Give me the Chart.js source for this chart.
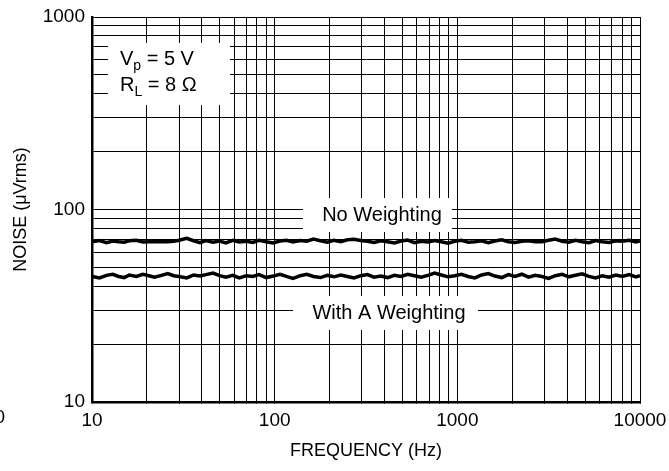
<!DOCTYPE html>
<html lang="en">
<head>
<meta charset="UTF-8">
<title>Noise vs Frequency</title>
<style>
  html, body { margin: 0; padding: 0; background: #fff; }
  #wrap { width: 669px; height: 471px; position: relative; }
</style>
</head>
<body>
<div id="wrap"><canvas id="grafico" width="669" height="471"></canvas></div>

<script src="https://cdn.jsdelivr.net/npm/chart.js"></script>
<script>
// frequencies (Hz) where the traces were read
const frequencias = [
  10, 11, 12, 13, 14, 15, 16, 17.5, 19, 20.5,
  22, 24, 26, 28, 30, 33, 36, 39, 42, 46,
  50, 54, 59, 64, 70, 76, 82, 90, 98, 107,
  116, 126, 138, 150, 163, 178, 194, 211, 230, 250,
  272, 296, 322, 350, 381, 415, 452, 492, 535, 582,
  634, 690, 751, 817, 889, 968, 1053, 1146, 1247, 1357,
  1477, 1607, 1749, 1903, 2071, 2254, 2453, 2669, 2905, 3161,
  3440, 3744, 4074, 4434, 4825, 5251, 5714, 6218, 6767, 7364,
  8014, 8721, 9491, 10000
];

// noise, uVrms
const semPonderacao = [
  68.0, 69.0, 67.2, 68.6, 68.0, 67.6, 68.8, 69.2, 67.8, 68.0,
  68.0, 68.0, 68.0, 68.4, 69.2, 70.8, 68.8, 67.2, 69.0, 67.6,
  68.6, 67.0, 69.2, 67.8, 68.4, 67.4, 69.2, 68.0, 67.0, 68.6,
  69.2, 67.8, 69.0, 68.4, 70.2, 68.8, 67.6, 69.2, 68.0, 69.6,
  70.0, 69.0, 68.4, 67.4, 68.8, 68.0, 67.0, 68.6, 69.4, 67.2,
  68.4, 67.8, 69.0, 68.0, 66.8, 68.4, 69.2, 67.6, 68.0, 68.8,
  67.2, 68.6, 69.6, 68.0, 67.4, 68.4, 68.8, 68.0, 68.0, 69.2,
  70.2, 68.4, 67.6, 69.2, 68.0, 67.2, 69.0, 68.0, 67.4, 68.8,
  68.4, 69.2, 67.8, 68.6
];

const comPonderacaoA = [
  44.9, 44.1, 45.5, 46.1, 44.9, 44.3, 45.7, 44.9, 46.1, 45.3,
  44.5, 45.5, 46.5, 45.3, 44.9, 44.1, 45.7, 45.1, 45.9, 46.7,
  45.3, 44.5, 45.5, 44.1, 45.3, 44.9, 45.9, 44.3, 45.1, 46.1,
  44.9, 43.9, 45.3, 46.1, 44.9, 44.3, 45.5, 44.7, 45.7, 44.9,
  44.1, 45.3, 45.9, 44.5, 45.1, 44.3, 45.5, 44.9, 46.1, 45.3,
  44.5, 45.5, 46.7, 45.7, 44.7, 45.3, 46.1, 44.9, 44.1, 45.7,
  46.5, 45.1, 44.3, 45.9, 44.9, 46.1, 44.5, 45.5, 44.9, 43.9,
  45.3, 46.1, 44.7, 45.5, 46.3, 44.9, 44.1, 45.3, 44.5, 45.7,
  44.9, 45.9, 44.7, 45.3
];

// grid lines and labelled ticks
const gradeX = [10,20,30,40,50,60,70,80,90,100,200,300,400,500,600,700,800,900,
                1000,2000,3000,4000,5000,6000,7000,8000,9000,10000];
const rotulosX = [10, 100, 1000, 10000];
const gradeY = [10,20,30,40,50,60,70,80,90,100,200,300,400,500,600,700,800,900,1000];
const rotulosY = [10, 100, 1000];

const FONTE = "'Liberation Sans', Arial, Helvetica, sans-serif";
Chart.defaults.font.family = FONTE;
Chart.defaults.color = '#000';

// white label boxes that cut the grid, plus their text
const caixas = {
  id: 'caixas',
  beforeDatasetsDraw(chart) {
    const ctx = chart.ctx;
    ctx.save();
    ctx.fillStyle = '#fff';
    ctx.fillRect(108, 43, 122, 62);
    ctx.fillRect(303, 198, 149, 34);
    ctx.fillRect(293, 296, 185, 34);

    ctx.fillStyle = '#000';
    ctx.textBaseline = 'alphabetic';
    ctx.textAlign = 'left';
    // Vp = 5 V
    let x = 120;
    ctx.font = '20px ' + FONTE;
    ctx.fillText('V', x, 65);
    x += ctx.measureText('V').width;
    ctx.font = '14px ' + FONTE;
    ctx.fillText('p', x, 70);
    x += ctx.measureText('p').width;
    ctx.font = '20px ' + FONTE;
    ctx.fillText(' = 5 V', x, 65);
    // RL = 8 Ω
    x = 120;
    ctx.fillText('R', x, 91);
    x += ctx.measureText('R').width;
    ctx.font = '14px ' + FONTE;
    ctx.fillText('L', x, 96);
    x += ctx.measureText('L').width;
    ctx.font = '20px ' + FONTE;
    ctx.fillText(' = 8 Ω', x, 91);

    ctx.textAlign = 'center';
    ctx.textBaseline = 'middle';
    ctx.font = '20px ' + FONTE;
    ctx.fillText('No Weighting', 382, 215);
    ctx.fillText('With A Weighting', 389, 313);

    // stray label fragment at the left edge
    ctx.font = '19px ' + FONTE;
    ctx.textAlign = 'right';
    ctx.fillText('0', 5, 418);
    ctx.restore();
  }
};

new Chart(document.getElementById('grafico'), {
  type: 'line',
  data: {
    datasets: [
      {
        label: 'No Weighting',
        data: frequencias.map((f, i) => ({ x: f, y: semPonderacao[i] })),
        borderColor: '#000',
        borderWidth: 3.5,
        pointRadius: 0,
        tension: 0
      },
      {
        label: 'With A Weighting',
        data: frequencias.map((f, i) => ({ x: f, y: comPonderacaoA[i] })),
        borderColor: '#000',
        borderWidth: 3.5,
        pointRadius: 0,
        tension: 0
      }
    ]
  },
  options: {
    responsive: false,
    animation: false,
    layout: { padding: { top: 17, right: 29, left: 0, bottom: 0 } },
    plugins: {
      legend: { display: false },
      tooltip: { enabled: false }
    },
    scales: {
      x: {
        type: 'logarithmic',
        position: 'bottom',
        min: 10,
        max: 10000,
        afterBuildTicks: (s) => { s.ticks = gradeX.map(v => ({ value: v })); },
        afterFit: (s) => { s.height = 69; s.paddingLeft = 0; s.paddingRight = 0; },
        ticks: {
          autoSkip: false,
          maxRotation: 0,
          padding: 7,
          font: { size: 19 },
          color: '#000',
          callback: (v) => rotulosX.includes(v) ? String(v) : ''
        },
        grid: { color: '#000', lineWidth: 1, tickLength: 0 },
        border: { display: true, color: '#000', width: 2.5 },
        title: {
          display: true,
          text: 'FREQUENCY (Hz)',
          font: { size: 18 },
          color: '#000',
          padding: { top: 0, bottom: 9 }
        }
      },
      y: {
        type: 'logarithmic',
        position: 'left',
        min: 10,
        max: 1000,
        afterBuildTicks: (s) => { s.ticks = gradeY.map(v => ({ value: v })); },
        afterFit: (s) => { s.width = 92; s.paddingTop = 0; s.paddingBottom = 0; },
        ticks: {
          autoSkip: false,
          padding: 7,
          font: { size: 19 },
          color: '#000',
          callback: (v) => rotulosY.includes(v) ? String(v) : ''
        },
        grid: { color: '#000', lineWidth: 1, tickLength: 0 },
        border: { display: true, color: '#000', width: 2.5 },
        title: {
          display: true,
          text: 'NOISE (μVrms)',
          font: { size: 18 },
          color: '#000',
          padding: { top: 10, bottom: 0 }
        }
      }
    }
  },
  plugins: [caixas]
});
</script>
</body>
</html>
